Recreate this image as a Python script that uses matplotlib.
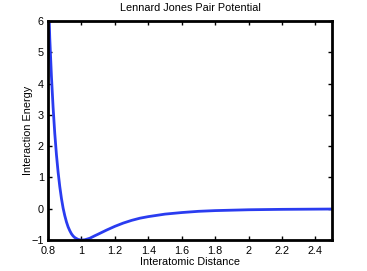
import matplotlib.pyplot as plt

# points
dist = [0.807, 0.81, 0.82, 0.83, 0.84, 0.85, 0.86, 0.87, 0.88, 0.89, 0.90,
        0.91, 0.92, 0.93, 0.94, 0.95, 0.96, 0.98, 1.00, 1.02, 1.05, 1.08,
        1.10, 1.15, 1.20, 1.25, 1.30, 1.35, 1.40, 1.50, 1.60, 1.70, 1.80,
        2.00, 2.20, 2.50]
energy = [6.0, 5.46, 4.24, 3.24, 2.41, 1.73, 1.17, 0.71, 0.33, 0.02, -0.22,
          -0.42, -0.58, -0.70, -0.80, -0.87, -0.92, -0.98, -1.00, -0.99, -0.94, -0.86,
          -0.81, -0.68, -0.56, -0.456, -0.37, -0.30, -0.25, -0.17, -0.12, -0.081, -0.058,
          -0.031, -0.018, -0.008]

xticks = [0.8, 1, 1.2, 1.4, 1.6, 1.8, 2, 2.2, 2.4]
xlabels = ["0.8", "1", "1.2", "1.4", "1.6", "1.8", "2", "2.2", "2.4"]
yticks = [-1, 0, 1, 2, 3, 4, 5, 6]
ylabels = ["\u22121", "0", "1", "2", "3", "4", "5", "6"]

plt.rcParams['font.family'] = ['Liberation Sans', 'DejaVu Sans']
plt.rcParams['font.size'] = 7.8

fig = plt.figure(figsize=(3.67, 2.71), dpi=100)
ax = fig.add_axes([0.131, 0.114, 0.774, 0.809])
ax.plot(dist, energy, color="#2a3cf0", linewidth=2)
ax.set_xlim(0.8, 2.5)
ax.set_ylim(-1, 6)
ax.set_xticks(xticks)
ax.set_xticklabels(xlabels)
ax.set_yticks(yticks)
ax.set_yticklabels(ylabels)
ax.tick_params(direction="in", top=True, right=True, length=3, width=1)
ax.tick_params(axis="x", pad=4)
ax.tick_params(axis="y", pad=3)
for s in ax.spines.values():
    s.set_linewidth(2)

ax.set_title("Lennard Jones Pair Potential", fontsize=7.8, pad=7)
ax.set_xlabel("Interatomic Distance", labelpad=1)
ax.set_ylabel("Interaction Energy", labelpad=-1)

fig.savefig("out.png", dpi=100)
